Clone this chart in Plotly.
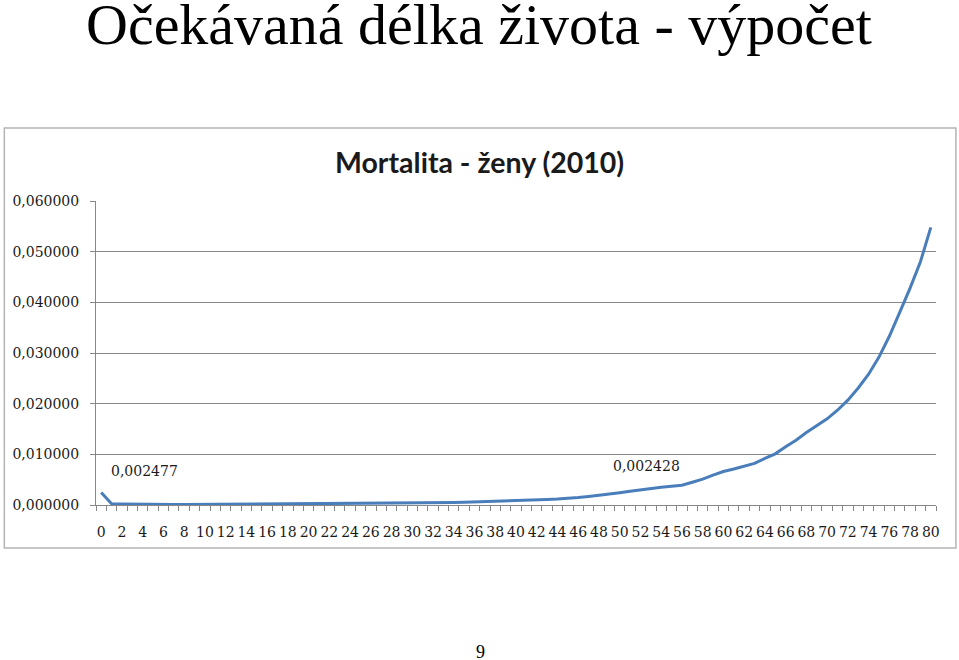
import plotly.graph_objects as go

# -------------------------------------------------------------------
# Data: female mortality q(x) by age, 2010
# -------------------------------------------------------------------
ages = list(range(0, 81))
mortality = [
    0.002477, 0.00025, 0.00020, 0.00015, 0.00012, 0.00010, 0.00010, 0.00008,
    0.00008, 0.00009, 0.00009, 0.00011, 0.00012, 0.00014, 0.00016, 0.00018,
    0.00021, 0.00023, 0.00024, 0.00023, 0.00022, 0.00023, 0.00024, 0.00022,
    0.00025, 0.00024, 0.00027, 0.00026, 0.00030, 0.00031, 0.00034, 0.00036,
    0.00042, 0.00045, 0.00047, 0.00052, 0.00058, 0.00062, 0.00068, 0.00074,
    0.00085, 0.00092, 0.00098, 0.00110, 0.00120, 0.00130, 0.00150, 0.00170,
    0.00190, 0.00210, 0.002428, 0.00270, 0.00300, 0.00330, 0.00350, 0.00370,
    0.00390, 0.00450, 0.00510, 0.00590, 0.00660, 0.00710, 0.00760, 0.00820,
    0.00920, 0.01010, 0.01150, 0.01280, 0.01430, 0.01570, 0.01700, 0.01870,
    0.02070, 0.02310, 0.02580, 0.02920, 0.03330, 0.03800, 0.04280, 0.04800,
    0.05480,
]

label_ages = [0, 50]
label_texts = ["0,002477", "0,002428"]

x_tickvals = list(range(0, 81, 2))
y_tickvals = [0.0, 0.01, 0.02, 0.03, 0.04, 0.05, 0.06]

slide_title = "Očekávaná délka života - výpočet"
chart_title = "Mortalita - ženy (2010)"
page_number = "9"

# --- Pixel layout of the slide ---
W, H = 959, 660
PLOT_L, PLOT_R, PLOT_T, PLOT_B = 93, 936, 201, 505
GRID = "#878787"
LINE_BLUE = "#4a7ebb"


def px(x):
    return (x - PLOT_L) / (PLOT_R - PLOT_L)


def py(y):
    return (PLOT_B - y) / (PLOT_B - PLOT_T)


fig = go.Figure()
fig.add_scatter(x=ages, y=mortality, mode="lines",
                line=dict(color=LINE_BLUE, width=3), showlegend=False,
                hoverinfo="skip")

# data labels, moved off the points the way they sit in the picture
label_shifts = [(43, 21), (27, 27)]
for age, text, (dx, dy) in zip(label_ages, label_texts, label_shifts):
    fig.add_annotation(x=age, y=mortality[ages.index(age)], text=text,
                       showarrow=False, xshift=dx, yshift=dy,
                       font=dict(family="DejaVu Serif", size=14, color="#1a1a1a"))

# chart frame (embedded Excel chart)
fig.add_shape(type="rect", xref="paper", yref="paper",
              x0=px(1), x1=px(956), y0=py(548), y1=py(128),
              line=dict(color="#b4b4b4", width=1.5), layer="below")

fig.add_annotation(xref="paper", yref="paper", x=px(478), y=py(162),
                   text=f"<b>{chart_title}</b>", showarrow=False,
                   xanchor="center", yanchor="middle",
                   font=dict(family="Lato", size=28.5, color="#1a1a1a"))

fig.add_annotation(xref="paper", yref="paper", x=px(477), y=py(-10),
                   text=slide_title, showarrow=False,
                   xanchor="center", yanchor="top",
                   font=dict(family="Liberation Serif", size=58, color="black"))

fig.add_annotation(xref="paper", yref="paper", x=px(479), y=py(652),
                   text=page_number, showarrow=False,
                   xanchor="center", yanchor="middle",
                   font=dict(family="Liberation Serif", size=18, color="black"))

fig.update_xaxes(
    range=[-0.5, 80.5], tickmode="array", tickvals=x_tickvals,
    ticktext=[str(v) for v in x_tickvals], ticks="", ticklabelstandoff=14,
    showgrid=False, zeroline=False, showline=True, linecolor=GRID, linewidth=1,
    tickfont=dict(family="DejaVu Serif", size=14, color="#1a1a1a"),
    minor=dict(tickmode="array", tickvals=[a - 0.5 for a in ages] + [80.5],
               ticks="outside", ticklen=5, tickcolor=GRID, showgrid=False),
)
fig.update_yaxes(
    range=[0, 0.06], tickmode="array", tickvals=y_tickvals,
    tickformat=".6f", ticks="outside", ticklen=5, tickcolor=GRID,
    ticklabelstandoff=8,
    showgrid=True, gridcolor=GRID, gridwidth=1, zeroline=False,
    showline=True, linecolor=GRID, linewidth=1,
    tickfont=dict(family="DejaVu Serif", size=14, color="#1a1a1a"),
)

fig.update_layout(
    width=W, height=H, separators=", ",
    margin=dict(l=PLOT_L, r=W - PLOT_R, t=PLOT_T, b=H - PLOT_B),
    paper_bgcolor="white", plot_bgcolor="white",
)

# the page's default body margin would push the slide 8px off
fig.write_html("out.html", config={"displayModeBar": False},
               post_script="document.body.style.margin = '0';")
